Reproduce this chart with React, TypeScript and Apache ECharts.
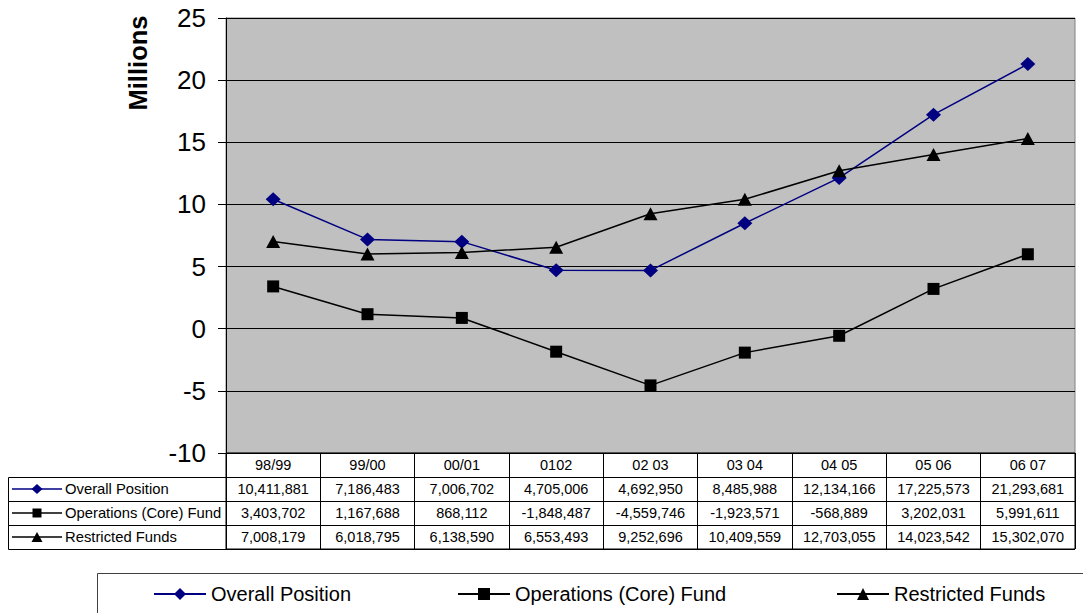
import React, { useEffect, useRef } from 'react';
import * as echarts from 'echarts';

const categories = ['98/99', '99/00', '00/01', '0102', '02 03', '03 04', '04 05', '05 06', '06 07'];
const overallPosition = [10411881, 7186483, 7006702, 4705006, 4692950, 8485988, 12134166, 17225573, 21293681];
const operationsFund = [3403702, 1167688, 868112, -1848487, -4559746, -1923571, -568889, 3202031, 5991611];
const restrictedFunds = [7008179, 6018795, 6138590, 6553493, 9252696, 10409559, 12703055, 14023542, 15302070];
const seriesNames = ['Overall Position', 'Operations (Core) Fund', 'Restricted Funds'];
const seriesColors = ['#000080', '#000000', '#000000'];
const seriesSymbols = ['diamond', 'rect', 'triangle'];
const yMin = -10;
const yMax = 25;
const yInterval = 5;

const FONT = '"Liberation Sans", Arial, Helvetica, sans-serif';
const GRID_LEFT = 226;
const GRID_TOP = 18;
const GRID_W = 849;
const GRID_H = 435;
const ROW_H = 24;
const TABLE_TOP = GRID_TOP + GRID_H;
const LABEL_LEFT = 8;

const fmt = (n: number) => n.toLocaleString('en-US');

export default function App() {
  const ref = useRef<HTMLDivElement>(null);
  useEffect(() => {
    if (!ref.current) return;
    const chart = echarts.init(ref.current, undefined, { renderer: 'svg' });
    const allSeries = [overallPosition, operationsFund, restrictedFunds];
    const tableText: string[][] = [categories, ...allSeries.map((s) => s.map(fmt))];
    const tableCells: number[][] = [];
    for (let r = 0; r < tableText.length; r++) {
      for (let c = 0; c < categories.length; c++) tableCells.push([c, r]);
    }

    const labelEls: any[] = [];
    seriesNames.forEach((name, i) => {
      const y0 = TABLE_TOP + (i + 1) * ROW_H;
      const yc = y0 + ROW_H / 2;
      labelEls.push({
        type: 'rect',
        shape: { x: LABEL_LEFT + 0.5, y: y0 + 0.5, width: GRID_LEFT - LABEL_LEFT, height: ROW_H },
        style: { fill: 'none', stroke: '#000', lineWidth: 1 },
      });
      labelEls.push({
        type: 'line',
        shape: { x1: 12, y1: yc, x2: 62, y2: yc },
        style: { stroke: seriesColors[i], lineWidth: 1.5 },
      });
      const mx = 37;
      if (i === 0) {
        labelEls.push({
          type: 'polygon',
          shape: { points: [[mx, yc - 5], [mx + 5.5, yc], [mx, yc + 5], [mx - 5.5, yc]] },
          style: { fill: seriesColors[i] },
        });
      } else if (i === 1) {
        labelEls.push({
          type: 'rect',
          shape: { x: mx - 4.5, y: yc - 4.5, width: 9, height: 9 },
          style: { fill: '#000' },
        });
      } else {
        labelEls.push({
          type: 'polygon',
          shape: { points: [[mx, yc - 5], [mx + 5.5, yc + 5], [mx - 5.5, yc + 5]] },
          style: { fill: '#000' },
        });
      }
      labelEls.push({
        type: 'text',
        x: 65,
        y: yc,
        style: { text: name, fill: '#000', fontSize: 14.8, fontFamily: FONT, align: 'left', verticalAlign: 'middle' },
      });
    });

    const legendLefts = [148, 452, 831];

    chart.setOption({
      animation: false,
      backgroundColor: '#ffffff',
      grid: [
        {
          left: GRID_LEFT, top: GRID_TOP, width: GRID_W, height: GRID_H,
          show: true, backgroundColor: '#C0C0C0', borderColor: '#808080', borderWidth: 1,
        },
        {
          left: GRID_LEFT, top: TABLE_TOP, width: GRID_W, height: ROW_H * 4,
          show: true, backgroundColor: '#ffffff', borderColor: '#000', borderWidth: 1,
        },
      ],
      xAxis: [
        {
          type: 'category', gridIndex: 0, data: categories, boundaryGap: true,
          axisLine: { show: false }, axisTick: { show: false }, axisLabel: { show: false }, splitLine: { show: false },
        },
        {
          type: 'category', gridIndex: 1, data: categories, boundaryGap: true,
          axisLine: { show: false }, axisTick: { show: false, interval: 0 }, axisLabel: { show: false, interval: 0 },
          splitLine: { show: true, interval: 0, lineStyle: { color: '#000', width: 1 } },
        },
      ],
      yAxis: [
        {
          type: 'value', gridIndex: 0, min: yMin, max: yMax, interval: yInterval,
          axisLine: { show: true, lineStyle: { color: '#000', width: 1 } },
          axisTick: { show: true, length: 8, lineStyle: { color: '#000' } },
          axisLabel: { color: '#000', fontSize: 26, fontFamily: FONT, margin: 20 },
          splitLine: { show: true, lineStyle: { color: '#000', width: 1 } },
        },
        {
          type: 'category', gridIndex: 1, data: ['h', 'a', 'b', 'c'], inverse: true, boundaryGap: true,
          axisLine: { show: false }, axisTick: { show: false, interval: 0 }, axisLabel: { show: false, interval: 0 },
          splitLine: { show: true, interval: 0, lineStyle: { color: '#000', width: 1 } },
        },
      ],
      legend: seriesNames.map((name, i) => ({
        data: [name],
        left: legendLefts[i],
        top: 579,
        itemWidth: 52,
        itemHeight: 15,
        itemGap: 0,
        selectedMode: false,
        textStyle: { fontSize: 20, color: '#000', fontFamily: FONT },
      })),
      series: [
        ...allSeries.map((s, i) => ({
          name: seriesNames[i],
          type: 'line',
          xAxisIndex: 0,
          yAxisIndex: 0,
          data: s.map((v) => v / 1e6),
          symbol: seriesSymbols[i],
          symbolSize: i === 0 ? [15, 14] : i === 1 ? 12 : [14, 13],
          showAllSymbol: true,
          lineStyle: { color: seriesColors[i], width: 1.5 },
          itemStyle: { color: seriesColors[i] },
          emphasis: { disabled: true },
        })),
        {
          type: 'custom',
          xAxisIndex: 1,
          yAxisIndex: 1,
          silent: true,
          data: tableCells,
          renderItem: (params: any, api: any) => {
            const c = api.value(0);
            const r = api.value(1);
            const p = api.coord([c, r]);
            return {
              type: 'text',
              x: p[0],
              y: p[1],
              style: {
                text: tableText[r][c],
                fill: '#000',
                fontSize: 14.5,
                fontFamily: FONT,
                align: 'center',
                verticalAlign: 'middle',
              },
            };
          },
        },
      ],
      graphic: [
        {
          type: 'text',
          x: 138,
          y: 63,
          rotation: Math.PI / 2,
          silent: true,
          style: {
            text: 'Millions', fill: '#000', fontSize: 25.5, fontWeight: 'bold', fontFamily: FONT,
            align: 'center', verticalAlign: 'middle',
          },
        },
        { type: 'group', silent: true, children: labelEls },
        {
          type: 'rect',
          silent: true,
          shape: { x: 97.5, y: 573.5, width: 1100, height: 100 },
          style: { fill: 'none', stroke: '#404040', lineWidth: 1 },
        },
      ],
    });
    return () => chart.dispose();
  }, []);
  return <div ref={ref} style={{ position: 'absolute', left: 0, top: 0, width: 1083, height: 613 }} />;
}
